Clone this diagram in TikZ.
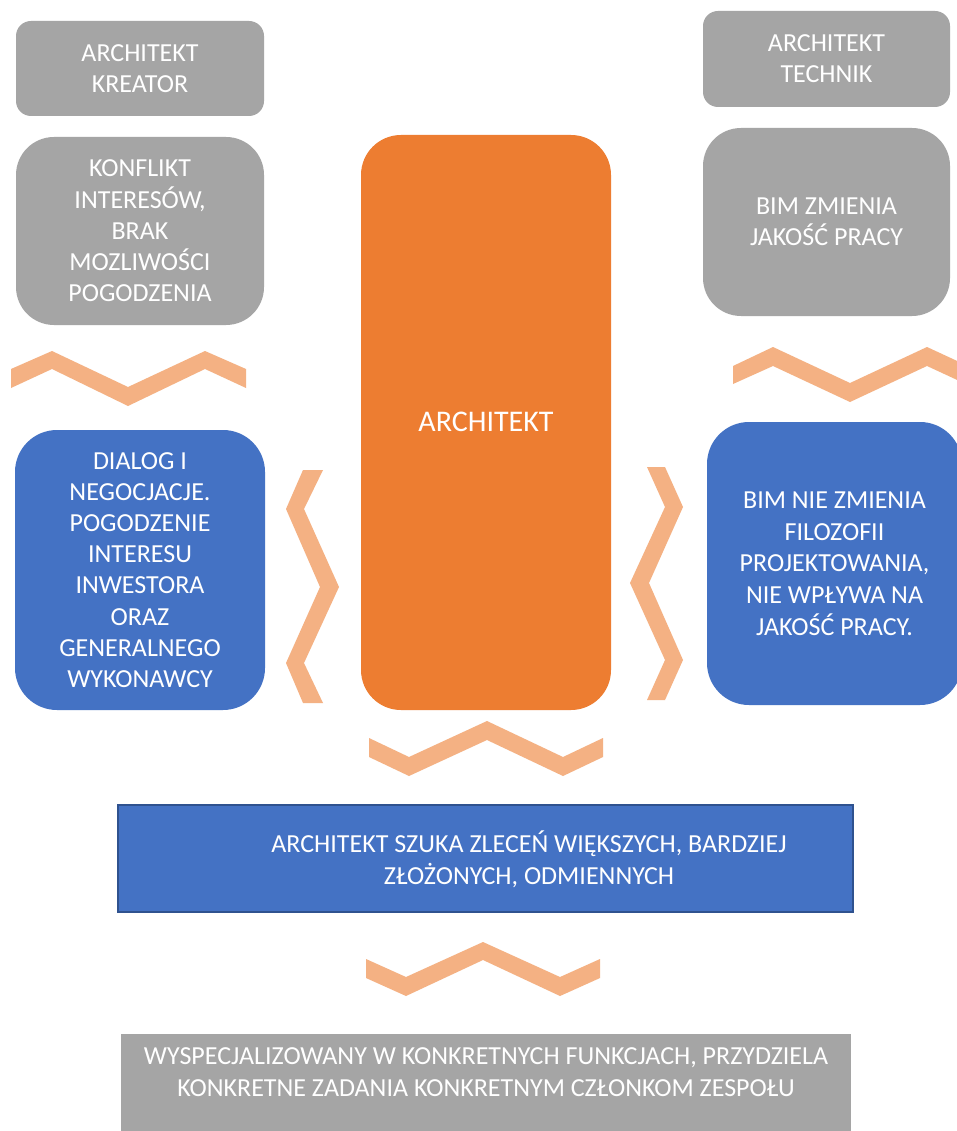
\documentclass[tikz,border=0pt]{standalone}
\usepackage{fontspec}
\setmainfont{Carlito}
\definecolor{boxgray}{HTML}{A5A5A5}
\definecolor{boxorange}{HTML}{ED7D31}
\definecolor{boxblue}{HTML}{4472C4}
\definecolor{chevroncol}{HTML}{F4B183}
\definecolor{blueedge}{HTML}{2F528F}
\newcommand{\mlines}[1]{\vbox{\kern4pt\hbox{\begin{tabular}{@{}c@{}}#1\end{tabular}}}}
\begin{document}
\begin{tikzpicture}[x=1pt,y=-1pt,
  txt/.style={text=white, font=\fontsize{26}{31.2}\selectfont, inner sep=0pt},
  wtxt/.style={text=white, font=\fontsize{26}{32}\selectfont, inner sep=0pt},
  rbox/.style={fill=#1, draw=none, inner sep=0pt},
  chev/.style={fill=chevroncol, draw=none}]
\useasboundingbox (0,0) rectangle (957,1131);
\clip (0,0) rectangle (957,1131);
\fill[white] (0,0) rectangle (957,1131);

% left column
\node[rbox=boxgray, txt, rounded corners=15pt, minimum width=248pt, minimum height=95pt] (kreator) at (140,68.5) {\mlines{ARCHITEKT\\KREATOR}};
\node[rbox=boxgray, txt, rounded corners=38pt, minimum width=248pt, minimum height=188pt] (konflikt) at (140,231) {\mlines{KONFLIKT\\INTERESÓW,\\BRAK\\MOZLIWOŚCI\\POGODZENIA}};
\node[rbox=boxblue, txt, rounded corners=42pt, minimum width=250pt, minimum height=280pt] (dialog) at (140,570) {\mlines{DIALOG I\\NEGOCJACJE.\\POGODZENIE\\INTERESU\\INWESTORA\\ORAZ\\GENERALNEGO\\WYKONAWCY}};

% right column
\node[rbox=boxgray, txt, rounded corners=15pt, minimum width=247pt, minimum height=96pt] (technik) at (826.5,59) {\mlines{ARCHITEKT\\TECHNIK}};
\node[rbox=boxgray, txt, rounded corners=38pt, minimum width=247pt, minimum height=188pt] (bimzmienia) at (826.5,222) {\mlines{BIM ZMIENIA\\JAKOŚĆ PRACY}};
\node[rbox=boxblue, txt, font=\fontsize{26}{31.8}\selectfont, rounded corners=42pt, minimum width=255pt, minimum height=283pt] (bimnie) at (834.5,563.5) {\mlines{BIM NIE ZMIENIA\\FILOZOFII\\PROJEKTOWANIA,\\NIE WPŁYWA NA\\JAKOŚĆ PRACY.}};

% centre
\node[rbox=boxorange, txt, font=\fontsize{30}{36}\selectfont, rounded corners=40pt, minimum width=250pt, minimum height=575pt] (architekt) at (486,422.5) {\mlines{ARCHITEKT}};

% bottom rectangles
\node[fill=boxblue, draw=blueedge, line width=1.5pt, inner sep=0pt, minimum width=735pt, minimum height=107pt] (szuka) at (485.5,858.5) {};
\node[wtxt] (szukatxt) at (529,860) {\mlines{ARCHITEKT SZUKA ZLECEŃ WIĘKSZYCH, BARDZIEJ\\ZŁOŻONYCH, ODMIENNYCH}};
\node[rbox=boxgray, minimum width=730pt, minimum height=106pt] (wyspec) at (486,1087) {};
\node[wtxt] (wyspectxt) at (486,1072) {\mlines{WYSPECJALIZOWANY W KONKRETNYCH FUNKCJACH, PRZYDZIELA\\KONKRETNE ZADANIA KONKRETNYM CZŁONKOM ZESPOŁU}};

% chevrons
\fill[chev] (11,369) -- (52,351) -- (128,387) -- (205,351) -- (246,369) -- (246,388) -- (205,369) -- (128,406) -- (52,369) -- (11,388) -- cycle;
\fill[chev] (733,366) -- (773,347) -- (850,383) -- (927,347) -- (968,366) -- (968,385) -- (927,366) -- (850,402) -- (773,366) -- (733,384) -- cycle;
\fill[chev] (303,470) -- (286,509) -- (320,587) -- (286,663) -- (303,703) -- (323,703) -- (304,663) -- (339,587) -- (304,509) -- (323,470) -- cycle;
\fill[chev] (647,467) -- (665,507) -- (630,583) -- (665,660) -- (647,700) -- (665,700) -- (683,660) -- (649,583) -- (683,507) -- (665,467) -- cycle;
\fill[chev] (369,738) -- (409,757) -- (487,721) -- (563,757) -- (603,738) -- (603,757) -- (563,776) -- (487,740) -- (409,776) -- (369,757) -- cycle;
\fill[chev] (366,959) -- (406,977) -- (483,942) -- (560,977) -- (600,959) -- (600,978) -- (560,996) -- (483,960) -- (406,996) -- (366,978) -- cycle;
\end{tikzpicture}
\end{document}
